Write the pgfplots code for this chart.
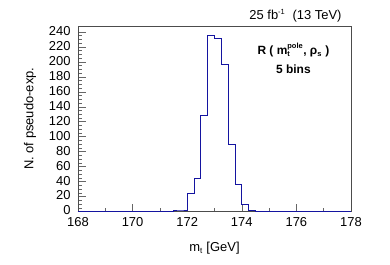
\documentclass[border=0pt]{standalone}
\usepackage{pgfplots}
\pgfplotsset{compat=1.18}
\usepackage{fontspec}
\setmainfont{Liberation Sans}
\definecolor{histblue}{RGB}{20,20,160}
\begin{document}
\begin{tikzpicture}
\path[use as bounding box] (-78bp,-53.5bp) rectangle (312bp,211.5bp);
\begin{axis}[
  at={(0,0)}, anchor=south west,
  scale only axis, width=273bp, height=185.5bp,
  xmin=168, xmax=178, ymin=0, ymax=248,
  xtick={168,170,...,178},
  ytick={0,20,...,240},
  minor x tick num=1,
  minor y tick num=3,
  tick align=inside,
  xtick pos=bottom, ytick pos=left,
  major tick length=8bp, minor tick length=4bp,
  tick style={black!60, line width=0.5pt},
  axis line style={black!70, line width=0.6pt},
  /pgf/number format/assume math mode=true,
  /pgf/number format/1000 sep={},
  ticklabel style={font=\fontsize{13}{15}\selectfont},
  xticklabel style={yshift=-2.5bp},
  yticklabel style={xshift=-4bp, yshift=1bp},
  label style={font=\fontsize{13}{15}\selectfont},
  xlabel={m$_{\mbox{\fontsize{8}{9}\selectfont t}}$ [GeV]},
  ylabel={N. of pseudo-exp.},
  xlabel style={at={(axis description cs:0.5,-0.2)}, anchor=center},
  ylabel style={at={(axis description cs:-0.176,0.5)}, anchor=center, rotate=0},
  clip=false,
]
\addplot[const plot, histblue, line width=0.9pt] coordinates {
(168,0) (171.5,2) (171.75,2) (172,24) (172.25,44) (172.5,128)
(172.75,236) (173,232) (173.25,197) (173.5,89) (173.75,36)
(174,10) (174.25,2) (174.5,0) (178,0)
};
\node[anchor=base east, font=\fontsize{13}{15}\selectfont, inner sep=0pt] at (rel axis cs:0.966,1) [yshift=6.7bp]
  {25 fb$^{\mbox{\fontsize{7.5}{8}\selectfont -1}}$\ \ (13 TeV)};
\node[anchor=base, font=\bfseries\fontsize{12}{14}\selectfont, inner sep=0pt] at (rel axis cs:0.789,0.847)
  {R ( m$_{\mbox{\bfseries\fontsize{7.5}{8}\selectfont t}}^{\mbox{\bfseries\fontsize{7.5}{8}\selectfont pole}}$, ρ$_{\mbox{\bfseries\fontsize{7.5}{8}\selectfont s}}$ )};
\node[anchor=base, font=\bfseries\fontsize{12}{14}\selectfont, inner sep=0pt] at (rel axis cs:0.789,0.745)
  {5 bins};
\end{axis}
\end{tikzpicture}
\end{document}
